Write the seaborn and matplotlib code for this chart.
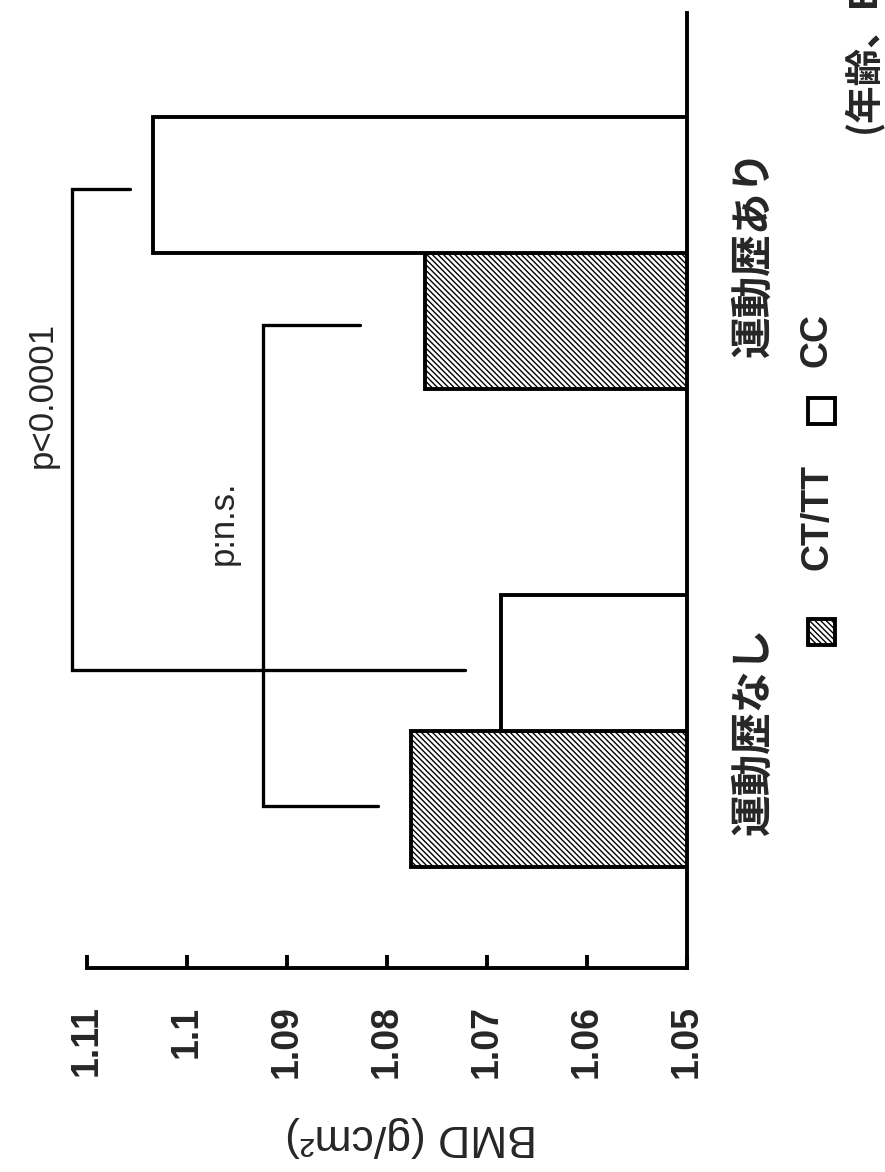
import pandas as pd
import matplotlib.pyplot as plt
import seaborn as sns
from matplotlib.patches import Rectangle

# データ
groups = ['運動歴なし', '運動歴あり']
genotypes = ['CT/TT', 'CC']
bmd_cttt = [1.0776, 1.0762]
bmd_cc = [1.0686, 1.1034]
bmd_ticks = [1.11, 1.10, 1.09, 1.08, 1.07, 1.06, 1.05]
bmd_tick_labels = ['1.11', '1.1', '1.09', '1.08', '1.07', '1.06', '1.05']

# 有意差ブラケット（値軸の位置, 上側アーム端, 下側アーム端）
bracket_labels = ['p<0.0001', 'p:n.s.']
bracket_levels = [1.1115, 1.0924]
bracket_arm_top = [1.1057, 1.0827]    # 運動歴あり側
bracket_arm_bottom = [1.0722, 1.0809]  # 運動歴なし側
bracket_hue = ['CC', 'CT/TT']

sns.set_theme(style='white')
plt.rcParams['font.family'] = ['Liberation Sans', 'Noto Sans CJK JP', 'DejaVu Sans']
plt.rcParams['hatch.linewidth'] = 1.0
JP = ['Noto Sans CJK JP', 'DejaVu Sans']
HATCH = '\\\\\\\\\\\\'
LW = 2.8

df = pd.DataFrame({
    'group': groups * 2,
    'genotype': [genotypes[0]] * 2 + [genotypes[1]] * 2,
    'bmd': bmd_cttt + bmd_cc,
})

W, H = 885, 1172
fig = plt.figure(figsize=(W / 100, H / 100), dpi=100)
ax = fig.add_axes([87 / W, 204 / H, 600 / W, 955 / H])

bar_width = 0.569
sns.barplot(data=df, y='group', x='bmd', hue='genotype', order=groups,
            hue_order=genotypes, orient='h', width=bar_width,
            palette={'CT/TT': 'white', 'CC': 'white'}, edgecolor='black',
            linewidth=LW, errorbar=None, legend=False, ax=ax)
for bar in ax.containers[0]:
    bar.set_hatch(HATCH)

ax.set_xlim(1.11, 1.05)
ax.set_ylim(-0.496, 1.502)

# 軸の体裁（図全体を90度回転させた配置）
for side in ['top', 'left']:
    ax.spines[side].set_visible(False)
for side in ['bottom', 'right']:
    ax.spines[side].set_visible(True)
    ax.spines[side].set_linewidth(LW)
    ax.spines[side].set_color('black')

ax.set_xticks(bmd_ticks)
ax.set_xticklabels(bmd_tick_labels, rotation=90, fontsize=27, fontweight='bold')
ax.tick_params(axis='x', direction='in', length=9.5, width=LW, color='black',
               pad=27, bottom=True)
ax.yaxis.tick_right()
ax.set_yticks([0, 1])
ax.set_yticklabels(groups, rotation=90, va='center', fontsize=30,
                   fontweight='bold', family=JP)
ax.tick_params(axis='y', length=0, pad=33)
ax.set_xlabel('')
ax.set_ylabel('')

# 有意差ブラケット
offset = bar_width / 4
for label, lev, top, bot, hue in zip(bracket_labels, bracket_levels,
                                     bracket_arm_top, bracket_arm_bottom, bracket_hue):
    d = offset if hue == 'CC' else -offset
    y_top = 1 + d - 0.008
    y_bot = 0 + d - 0.015
    ax.plot([top, lev, lev, bot], [y_top, y_top, y_bot, y_bot], color='black',
            lw=LW * 0.85, clip_on=False, solid_joinstyle='miter')

ax.text(1.0964, 0.435, bracket_labels[1], rotation=90, ha='center', va='center',
        fontsize=25)
ax.text(1.1145, 0.703, bracket_labels[0], rotation=90, ha='center', va='center',
        fontsize=25, clip_on=False)

# 縦軸ラベル（回転済み）
fig.text(411 / W, 1 - 1137 / H, 'BMD (g/cm²)', rotation=180, ha='center',
         va='center', fontsize=32)

# 凡例（手描き）
legend_x = 808
for gt, sq_top, txt_start in [('CT/TT', 619, 570), ('CC', 398, 367)]:
    rect = Rectangle((legend_x / W, 1 - (sq_top + 26) / H), 27 / W, 26 / H,
                     transform=fig.transFigure, facecolor='white',
                     edgecolor='black', linewidth=LW,
                     hatch=HATCH if gt == 'CT/TT' else None)
    fig.patches.append(rect)
    fig.text(835 / W, 1 - txt_start / H, gt, rotation=90, rotation_mode='anchor',
             ha='left', va='bottom', fontsize=27, fontweight='bold')

fig.text(883 / W, 1 - 133 / H, '(年齢、BMI調整)', rotation=90, rotation_mode='anchor',
         ha='left', va='bottom', fontsize=27, fontweight='bold', family=JP)

fig.savefig('out.png', dpi=100, facecolor='white')
